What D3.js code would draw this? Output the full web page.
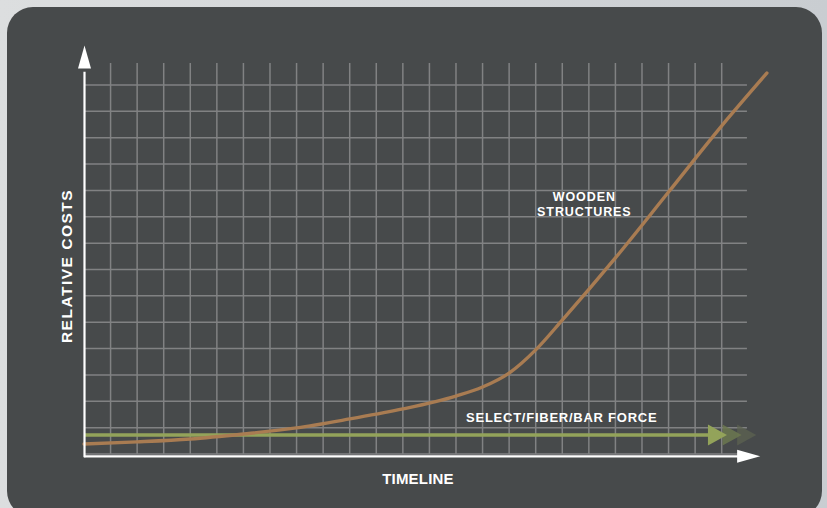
<!DOCTYPE html>
<html lang="en">
<head>
<meta charset="UTF-8">
<title>Relative costs over time</title>
<script src="https://d3js.org/d3.v7.min.js"></script>
<style>
  html, body { margin: 0; padding: 0; background: #d9dbdd; }
  svg { display: block; }
  text { font-family: "Liberation Sans", Arial, Helvetica, sans-serif; font-weight: bold; fill: #ffffff; }
</style>
</head>
<body>
<svg id="chart" width="827" height="508"></svg>
<script>
// timeline in grid columns, relative cost in grid rows
const woodX = [0, 2, 4, 6, 8, 10, 12, 14, 15, 16, 17, 18, 20, 22, 24, 25.7];
const woodY = [0.38, 0.46, 0.57, 0.76, 0.99, 1.33, 1.71, 2.2, 2.54, 3.07, 3.95, 5.08, 7.44, 9.94, 12.45, 14.45];
const fiberX = [0, 23.6];
const fiberY = [0.72, 0.72];
const fiberArrowTips = [24.2, 24.75, 25.3];
const labels = { wood: ["WOODEN", "STRUCTURES"], fiber: "SELECT/FIBER/BAR FORCE", x: "TIMELINE", y: "RELATIVE COSTS" };

const width = 827, height = 508;
const svg = d3.select("#chart");

// background
const defs = svg.append("defs");
const bg = defs.append("linearGradient").attr("id", "bg").attr("x1", 0).attr("x2", 1).attr("y1", 0).attr("y2", 0);
bg.append("stop").attr("offset", "0%").attr("stop-color", "#dcdedf");
bg.append("stop").attr("offset", "100%").attr("stop-color", "#c9cdd1");
svg.append("rect").attr("width", width).attr("height", height).attr("fill", "url(#bg)");
svg.append("rect")
    .attr("x", 7).attr("y", 7).attr("width", 815).attr("height", 510)
    .attr("rx", 26).attr("ry", 26)
    .attr("fill", "#474a4b");

const x = d3.scaleLinear().domain([0, 24]).range([84, 721.7]);
const y = d3.scaleLinear().domain([0, 14]).range([454, 85]);

// grid
const grid = svg.append("g").attr("stroke", "#818283").attr("stroke-width", 1.5);
grid.selectAll(".v").data(d3.range(1, 25)).enter().append("line")
    .attr("x1", d => x(d)).attr("x2", d => x(d))
    .attr("y1", y(14.83)).attr("y2", y(0));
grid.selectAll(".h").data(d3.range(0, 15)).enter().append("line")
    .attr("x1", x(0)).attr("x2", x(24.95))
    .attr("y1", d => y(d)).attr("y2", d => y(d));

// fiber line + arrows
const fiber = fiberX.map((d, i) => [d, fiberY[i]]);
const fiberColors = ["#93a35a", "#6c7850", "#5c6350"];
svg.append("path")
    .attr("d", d3.line().x(d => x(d[0])).y(d => y(d[1]))(fiber))
    .attr("stroke", "#93a35a").attr("stroke-width", 3.6).attr("fill", "none");
const headL = x(1) - x(0) - 7.5, headH = 10.5;
svg.selectAll(".fa").data(fiberArrowTips.slice().reverse()).enter().append("path")
    .attr("d", d => {
        const tx = x(d), ty = y(fiberY[0]);
        return `M${tx},${ty}L${tx - headL},${ty - headH}L${tx - headL},${ty + headH}Z`;
    })
    .attr("fill", (d, i) => fiberColors[2 - i])
    .attr("opacity", (d, i) => [0.75, 0.85, 1][i]);

// wooden structures curve
const wood = woodX.map((d, i) => [d, woodY[i]]);
svg.append("path")
    .attr("d", d3.line().x(d => x(d[0])).y(d => y(d[1])).curve(d3.curveMonotoneX)(wood))
    .attr("stroke", "#a97c52").attr("stroke-width", 3.4).attr("fill", "none")
    .attr("stroke-linecap", "round");

// axes
const axisY0 = y(0) + 2.3;
const axes = svg.append("g");
axes.append("line").attr("x1", x(0) + 0.5).attr("x2", x(0) + 0.5)
    .attr("y1", axisY0 + 1).attr("y2", y(14.5))
    .attr("stroke", "#fff").attr("stroke-width", 2.2);
axes.append("path")
    .attr("d", `M${x(0) + 0.5},${y(15.5)}L${x(0) - 6},${y(14.63)}L${x(0) + 7},${y(14.63)}Z`)
    .attr("fill", "#fff");
axes.append("line").attr("x1", x(0)).attr("x2", x(24.9))
    .attr("y1", axisY0).attr("y2", axisY0)
    .attr("stroke", "#fff").attr("stroke-width", 2.2);
axes.append("path")
    .attr("d", `M${x(25.45)},${axisY0}L${x(24.58)},${axisY0 - 6.5}L${x(24.58)},${axisY0 + 6.5}Z`)
    .attr("fill", "#fff");

// labels
svg.append("text")
    .attr("x", x(18.83)).attr("y", y(9.6))
    .attr("text-anchor", "middle")
    .style("font-size", "12.5px").style("letter-spacing", "0.9px")
    .selectAll("tspan").data(labels.wood).enter().append("tspan")
    .attr("x", x(18.83)).attr("dy", (d, i) => i ? 15 : 0)
    .text(d => d);

svg.append("text")
    .attr("x", x(14.38)).attr("y", y(1.22))
    .style("font-size", "13px").style("letter-spacing", "0.75px")
    .text(labels.fiber);

svg.append("text")
    .attr("x", 418).attr("y", 484)
    .attr("text-anchor", "middle")
    .style("font-size", "15px").style("letter-spacing", "0.2px")
    .text(labels.x);

svg.append("text")
    .attr("transform", "translate(72,266) rotate(-90)")
    .attr("text-anchor", "middle")
    .style("font-size", "15.5px").style("letter-spacing", "1.5px")
    .text(labels.y);
</script>
</body>
</html>
